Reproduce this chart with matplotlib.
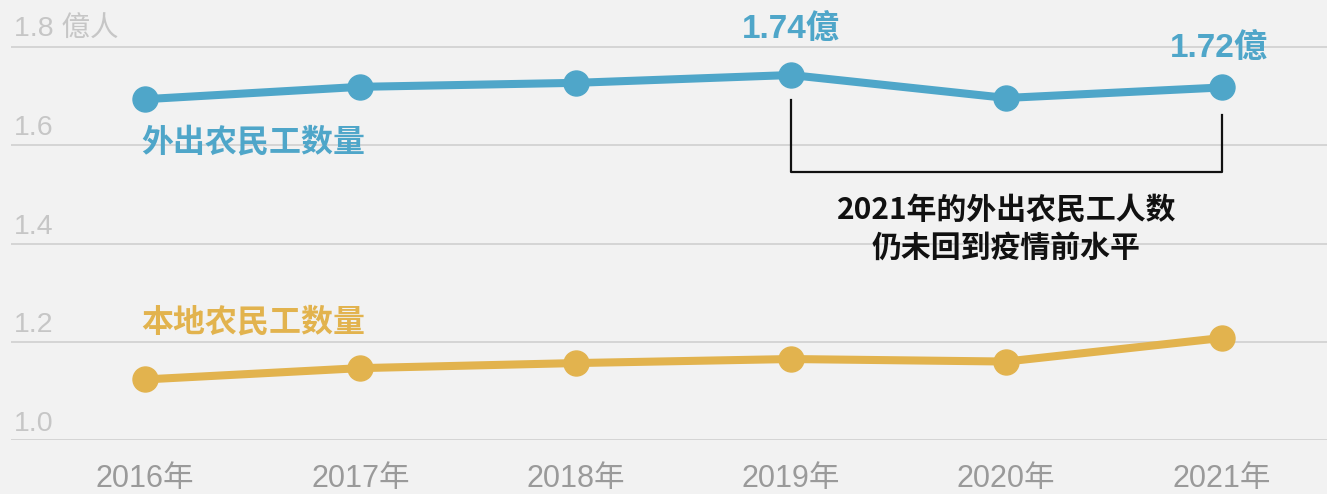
import matplotlib.pyplot as plt

# data (億人)
years = ["2016年", "2017年", "2018年", "2019年", "2020年", "2021年"]
outgoing = [1.6934, 1.7185, 1.7266, 1.7425, 1.6959, 1.7172]
local = [1.1237, 1.1467, 1.1570, 1.1652, 1.1601, 1.2079]
y_ticks = [1.0, 1.2, 1.4, 1.6, 1.8]
y_tick_labels = ["1.0", "1.2", "1.4", "1.6", "1.8 億人"]

BLUE = "#4fa6c9"
GOLD = "#e2b34e"
BG = "#f2f2f2"
FONTS = ["Liberation Sans", "Noto Sans CJK SC", "Noto Sans CJK TC", "DejaVu Sans"]
CJK_BOLD = ["Noto Sans CJK SC", "Noto Sans CJK TC", "DejaVu Sans"]

plt.rcParams["font.family"] = FONTS

fig = plt.figure(figsize=(13.27, 4.94), dpi=100, facecolor=BG)
ax = fig.add_axes([0.0083, 0.1087, 0.9917, 0.8913], facecolor=BG)

x = list(range(len(years)))
ax.plot(x, outgoing, color=BLUE, lw=5.8, marker="o", ms=18, zorder=3)
ax.plot(x, local, color=GOLD, lw=5.8, marker="o", ms=18, zorder=3)

ax.set_xlim(-0.623, 5.49)
ax.set_ylim(1.0, 1.895)

# grid
ax.set_yticks(y_ticks)
ax.set_yticklabels([])
ax.grid(axis="y", color="#d2d2d2", lw=1.3)
ax.set_axisbelow(True)
for s in ax.spines.values():
    s.set_visible(False)
ax.tick_params(axis="y", length=0)
for v, lab in zip(y_ticks, y_tick_labels):
    ax.annotate(lab, xy=(0.002, v), xycoords=("axes fraction", "data"),
                xytext=(0, 7), textcoords="offset points",
                ha="left", va="baseline", fontsize=20.5, color="#c6c6c6")

# x ticks
ax.set_xticks(x)
ax.set_xticklabels(years, fontsize=22, color="#9a9a9a")
ax.tick_params(axis="x", length=0, pad=17)

# series labels
ax.text(-0.02, 1.606, "外出农民工数量", color=BLUE, fontsize=23,
        fontweight="bold", family=CJK_BOLD, ha="left", va="center")
ax.text(-0.02, 1.240, "本地农民工数量", color=GOLD, fontsize=23,
        fontweight="bold", family=CJK_BOLD, ha="left", va="center")

# value callouts
ax.annotate("1.74億", xy=(3, outgoing[3]), xytext=(0, 33), textcoords="offset points",
            ha="center", va="center", fontsize=24, fontweight="bold", color=BLUE)
ax.annotate("1.72億", xy=(5, outgoing[5]), xytext=(-2, 28), textcoords="offset points",
            ha="center", va="center", fontsize=24, fontweight="bold", color=BLUE)

# bracket between 2019 and 2021
ax.plot([3, 3, 5, 5], [1.692, 1.546, 1.546, 1.661], color="#111111", lw=1.6, zorder=2)
ax.text(4, 1.43, "2021年的外出农民工人数\n仍未回到疫情前水平", ha="center", va="center",
        fontsize=21.5, fontweight="bold", family=CJK_BOLD, color="#111111", linespacing=1.3)

fig.savefig("out.png", dpi=100, facecolor=BG)
